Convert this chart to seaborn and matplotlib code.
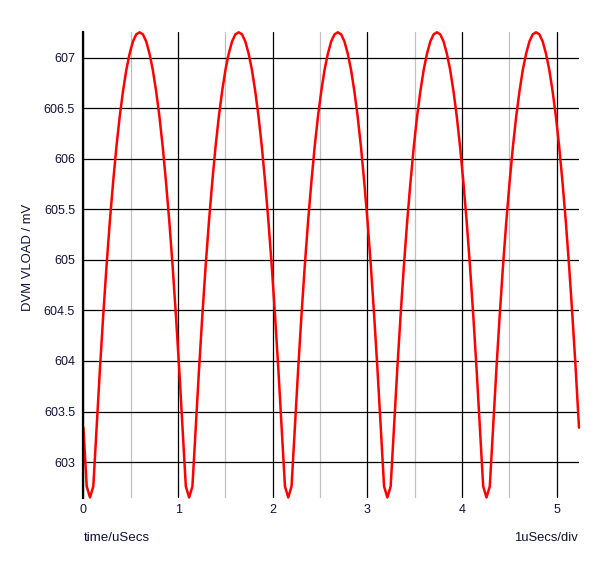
import numpy as np
import pandas as pd
import seaborn as sns
import matplotlib.pyplot as plt
from matplotlib.ticker import MultipleLocator, FormatStrFormatter

# scope sample step in uSecs
sample_step = 0.0349

# DVM VLOAD readings (mV), one per sample
vload = [
    603.34, 602.76,
    602.65, 602.76, 603.34, 603.92, 604.45, 604.94, 605.38, 605.77, 606.12, 606.42,
    606.67, 606.88, 607.04, 607.16, 607.23, 607.25, 607.23, 607.16, 607.04, 606.88,
    606.67, 606.42, 606.12, 605.77, 605.38, 604.94, 604.45, 603.92, 603.34, 602.76,
    602.65, 602.76, 603.34, 603.92, 604.45, 604.94, 605.38, 605.77, 606.12, 606.42,
    606.67, 606.88, 607.04, 607.16, 607.23, 607.25, 607.23, 607.16, 607.04, 606.88,
    606.67, 606.42, 606.12, 605.77, 605.38, 604.94, 604.45, 603.92, 603.34, 602.76,
    602.65, 602.76, 603.34, 603.92, 604.45, 604.94, 605.38, 605.77, 606.12, 606.42,
    606.67, 606.88, 607.04, 607.16, 607.23, 607.25, 607.23, 607.16, 607.04, 606.88,
    606.67, 606.42, 606.12, 605.77, 605.38, 604.94, 604.45, 603.92, 603.34, 602.76,
    602.65, 602.76, 603.34, 603.92, 604.45, 604.94, 605.38, 605.77, 606.12, 606.42,
    606.67, 606.88, 607.04, 607.16, 607.23, 607.25, 607.23, 607.16, 607.04, 606.88,
    606.67, 606.42, 606.12, 605.77, 605.38, 604.94, 604.45, 603.92, 603.34, 602.76,
    602.65, 602.76, 603.34, 603.92, 604.45, 604.94, 605.38, 605.77, 606.12, 606.42,
    606.67, 606.88, 607.04, 607.16, 607.23, 607.25, 607.23, 607.16, 607.04, 606.88,
    606.67, 606.42, 606.12, 605.77, 605.38, 604.94, 604.45, 603.92, 603.34,
]
time_us = np.arange(len(vload)) * sample_step

x_ticks = [0, 1, 2, 3, 4, 5]
y_ticks = [603, 603.5, 604, 604.5, 605, 605.5, 606, 606.5, 607]

df = pd.DataFrame({"time": time_us, "vload": vload})

sns.set_style("white")
plt.rcParams["font.family"] = ["Liberation Sans", "DejaVu Sans"]

fig = plt.figure(figsize=(6, 5.63), dpi=100)
ax = fig.add_axes([0.139, 0.1155, 0.826, 0.828])

# grid first so the trace sits on top
ax.xaxis.set_minor_locator(MultipleLocator(0.5))
ax.set_xticks(x_ticks)
ax.set_yticks(y_ticks)
ax.grid(which="minor", axis="x", color="#c0c0c0", linewidth=0.9)
ax.grid(which="major", axis="x", color="black", linewidth=0.9)
ax.grid(which="major", axis="y", color="black", linewidth=0.9)
ax.set_axisbelow(True)

sns.lineplot(data=df, x="time", y="vload", color="#ff0000", linewidth=1.8,
             ax=ax, clip_on=False, zorder=5)

ax.set_xlim(0, 5.235)
ax.set_ylim(602.645, 607.255)
ax.yaxis.set_major_formatter(FormatStrFormatter("%g"))

for side in ["top", "right", "bottom"]:
    ax.spines[side].set_visible(False)
ax.spines["left"].set_color("black")
ax.spines["left"].set_linewidth(1.6)
ax.spines["left"].set_zorder(6)

ax.tick_params(axis="y", which="major", direction="out", length=4, width=0.9,
               color="black", labelsize=9, labelcolor="#10103a", pad=2)
ax.tick_params(axis="x", which="both", length=0, labelsize=9,
               labelcolor="#10103a", pad=4)

ax.set_xlabel("")
ax.set_ylabel("")
fig.text(0.046, 0.5435, "DVM VLOAD / mV", rotation=90, ha="center", va="center",
         fontsize=9.4, color="#10103a")
fig.text(0.139, 0.045, "time/uSecs", ha="left", va="center", fontsize=9.6,
         color="#10103a")
fig.text(0.963, 0.045, "1uSecs/div", ha="right", va="center", fontsize=9.4,
         color="#10103a")

fig.savefig("out.png", dpi=100)
